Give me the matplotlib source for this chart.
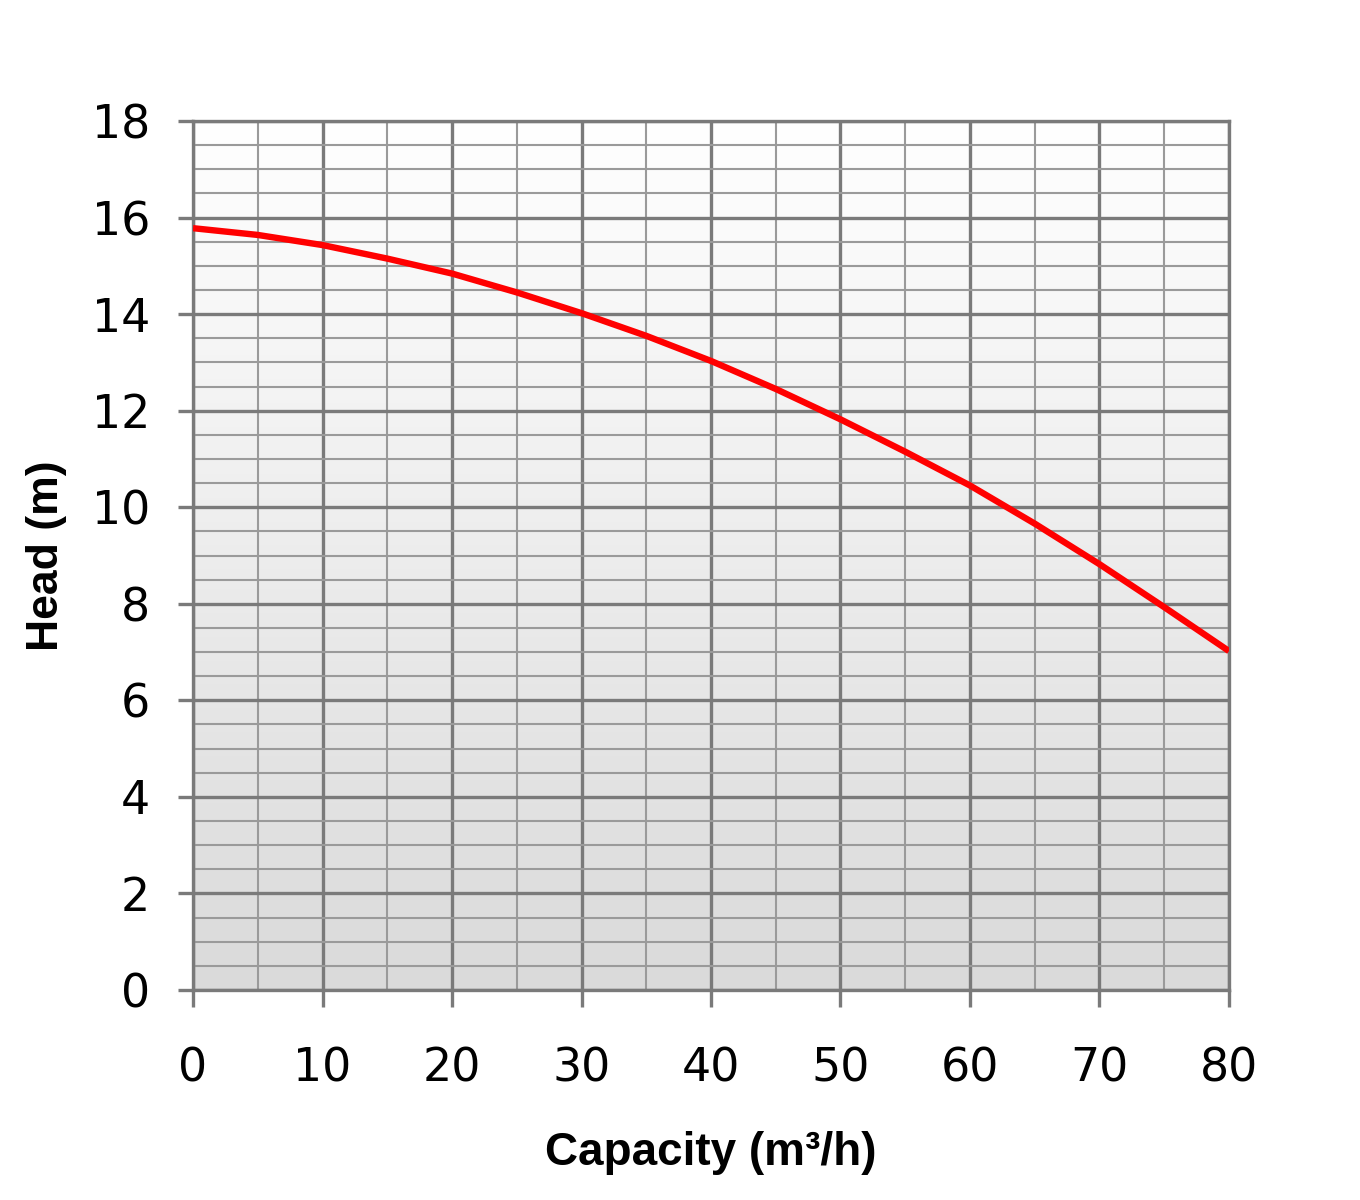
import numpy as np
import matplotlib
matplotlib.use("Agg")
from matplotlib import pyplot as plt
from matplotlib.ticker import MultipleLocator

# pump curve
capacity = [0, 5, 10, 15, 20, 25, 30, 35, 40, 45, 50, 55, 60, 65, 70, 75, 80]
head = [15.78, 15.64, 15.43, 15.15, 14.84, 14.45, 14.02, 13.55, 13.03, 12.45, 11.82, 11.15, 10.45, 9.66, 8.82, 7.93, 7.02]

x_ticks = [0, 10, 20, 30, 40, 50, 60, 70, 80]
y_ticks = [0, 2, 4, 6, 8, 10, 12, 14, 16, 18]

grid_major = "#7a7a7a"
grid_minor = "#9a9a9a"

fig = plt.figure(figsize=(13.6, 12), dpi=100)
ax = fig.add_axes([193/1360, 1 - 990/1200, (1229 - 193)/1360, (990 - 121)/1200])

# background fading from white at top to light grey at bottom
shade = np.linspace(1.0, 0.855, 256)
grad = np.repeat(shade[:, None, None], 3, axis=2)
ax.imshow(grad, extent=[0, 80, 0, 18], aspect="auto", origin="upper", zorder=0)

ax.set_xlim(0, 80)
ax.set_ylim(0, 18)
ax.set_xticks(x_ticks)
ax.set_yticks(y_ticks)
ax.xaxis.set_minor_locator(MultipleLocator(5))
ax.yaxis.set_minor_locator(MultipleLocator(0.5))

ax.set_axisbelow(True)
ax.grid(which="major", color=grid_major, linewidth=2.4)
ax.grid(which="minor", color=grid_minor, linewidth=1.5)

ax.plot(capacity, head, color="#ff0000", linewidth=4.6, zorder=3,
        solid_capstyle="butt", solid_joinstyle="round")

for s in ax.spines.values():
    s.set_color(grid_major)
    s.set_linewidth(2.4)

ax.tick_params(axis="both", which="major", color=grid_major, width=2.4,
               labelsize=33, labelcolor="black", direction="out")
ax.tick_params(axis="x", which="major", length=12, pad=29)
ax.tick_params(axis="y", which="major", length=11, pad=20)
ax.tick_params(which="minor", length=0)

ax.set_xlabel("Capacity (m³/h)", fontsize=33, fontweight="bold",
              family=["Liberation Sans", "DejaVu Sans"], labelpad=28)
ax.set_ylabel("Head (m)", fontsize=32, fontweight="bold",
              family=["Liberation Sans", "DejaVu Sans"], labelpad=18)

fig.savefig("out.png", dpi=100, facecolor="white")
